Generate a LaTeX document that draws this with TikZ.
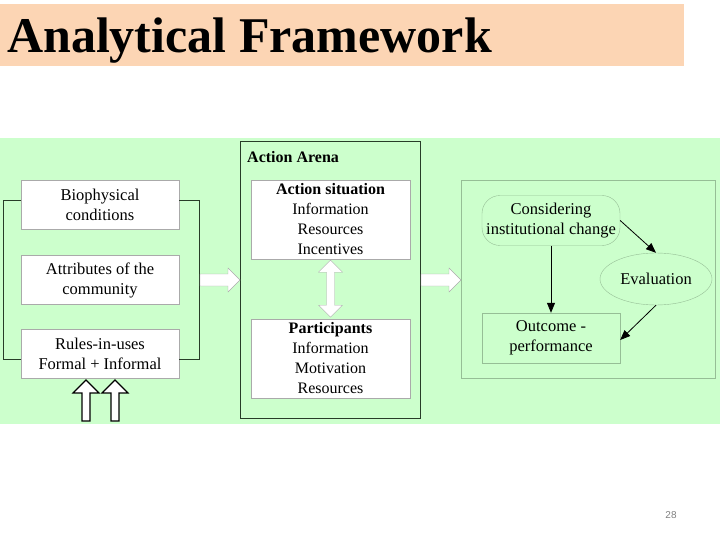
\documentclass[tikz,border=0pt]{standalone}
\usepackage{fontspec}
\setmainfont{Liberation Serif}
\newfontfamily\numfont{Liberation Sans}
\usetikzlibrary{arrows.meta,shapes.geometric}
\definecolor{bandgreen}{RGB}{204,255,204}
\definecolor{titlepeach}{RGB}{252,213,180}
\definecolor{boxgray}{RGB}{170,170,170}
\definecolor{arenaline}{RGB}{40,60,40}
\definecolor{outline}{RGB}{150,190,150}
\tikzset{
  factor/.style={draw=boxgray,fill=white,minimum width=158pt,minimum height=49pt,align=center,font=\fontsize{16.5}{20}\selectfont,inner sep=1pt},
  arena/.style={draw=boxgray,fill=white,minimum width=159pt,minimum height=79pt,align=center,font=\fontsize{16}{20}\selectfont,inner sep=1pt},
  flow/.style={draw=outline,minimum width=138pt,minimum height=50pt,align=center,font=\fontsize{16.5}{20}\selectfont},
  link/.style={-{Triangle[length=10pt,width=8pt]},thick,black},
  hollow/.style={draw=boxgray,fill=white}
}
% right-pointing fat arrow from #1 to #2 (same height)
\newcommand\fatright[2]{\draw[hollow] (#1) ++(0,-6) -- ($(#2)+(-12,-6)$) -- ($(#2)+(-12,-12)$) -- (#2) -- ($(#2)+(-12,12)$) -- ($(#2)+(-12,6)$) -- ($(#1)+(0,6)$) -- cycle;}
\usetikzlibrary{calc}
\begin{document}
\begin{tikzpicture}[x=1pt,y=-1pt]
  \useasboundingbox (0,0) rectangle (720,540);
  % title and background
  \fill[titlepeach] (0,4) rectangle (684,66);
  \node[anchor=base west,font=\fontsize{50}{54}\selectfont\bfseries,inner sep=0pt] (title) at (7,53) {Analytical Framework};
  \fill[bandgreen] (0,138) rectangle (720,424);
  % left factors
  \node[factor] (bio) at (100,205) {Biophysical\\conditions};
  \node[factor] (attr) at (100,280) {Attributes of the\\community};
  \node[factor] (rules) at (100,354) {Rules-in-uses\\Formal + Informal};
  \draw[arenaline,thick] ([yshift=5pt]bio.west) -| (3,359) -- ([yshift=-5pt]rules.west);
  \draw[arenaline,thick] ([yshift=5pt]bio.east) -| (199,359) -- ([yshift=-5pt]rules.east);
  \foreach \x in {86,115} {
    \coordinate (up\x) at (\x,380);
    \draw[very thick,fill=white] (up\x) -- ++(13,13) -- ++(-9,0) -- ++(0,28) -- ++(-8,0) -- ++(0,-28) -- ++(-9,0) -- cycle;
  }
  % action arena
  \node[draw=arenaline,thick,minimum width=180pt,minimum height=277pt] (arenabox) at (330,279.5) {};
  \node[anchor=north west,font=\fontsize{16}{18}\selectfont\bfseries,inner sep=0pt] (arenalbl) at (247,151) {Action Arena};
  \node[arena] (sit) at (330.5,219.5) {\textbf{Action situation}\\Information\\Resources\\Incentives};
  \node[arena] (part) at (330.5,358.5) {\textbf{Participants}\\Information\\Motivation\\Resources};
  \draw[hollow] ([yshift=-1pt]sit.south) -- ++(12,12) -- ++(-8,0) -- ++(0,33) -- ++(8,0) -- ++(-12,12) -- ++(-12,-12) -- ++(8,0) -- ++(0,-33) -- ++(-8,0) -- cycle;
  \coordinate (inA) at (200,280);
  \coordinate (inB) at (240,280);
  \coordinate (outA) at (421,280);
  \coordinate (outB) at (461,280);
  \fatright{inA}{inB}
  \fatright{outA}{outB}
  % outcomes
  \draw[outline] (461,180) rectangle (715,378);
  \node[flow,rounded corners=18pt] (consider) at (551,220.5) {Considering\\institutional change};
  \node[flow] (outcome) at (551,338) {Outcome -\\performance};
  \node[ellipse,draw=outline,minimum width=112pt,minimum height=52pt,font=\fontsize{16.5}{20}\selectfont] (eval) at (656,279) {Evaluation};
  \draw[link] (consider.east) -- (eval.north);
  \draw[link] (consider.south) -- (outcome.north);
  \draw[link] (eval.south) -- ([yshift=-2pt]outcome.east);
  \node[font=\numfont\fontsize{10}{12}\selectfont,text=gray] (page) at (671,515) {28};
\end{tikzpicture}
\end{document}
